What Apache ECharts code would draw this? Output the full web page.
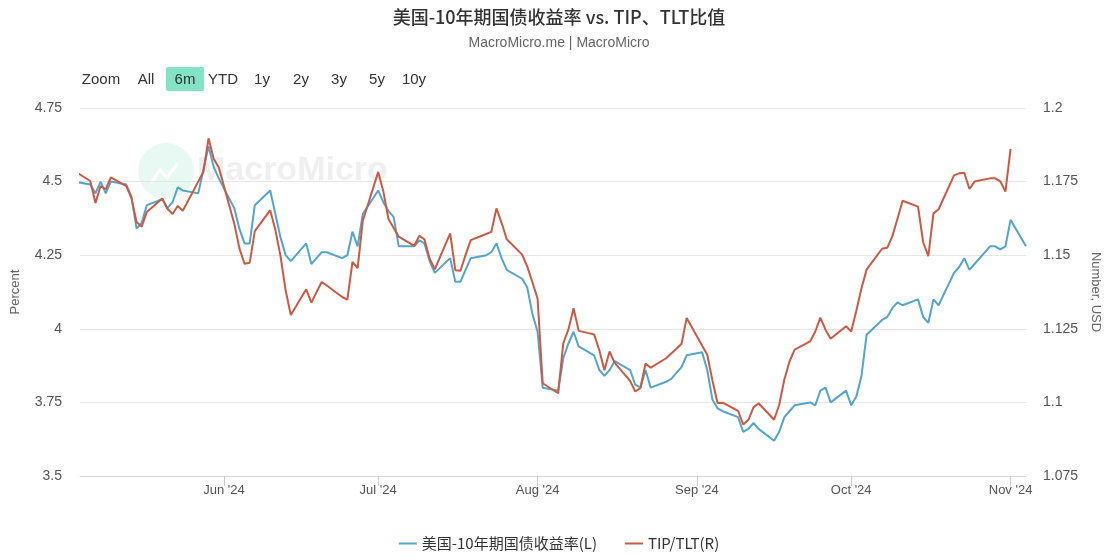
<!DOCTYPE html>
<html>
<head>
<meta charset="utf-8">
<script src="https://cdn.jsdelivr.net/npm/echarts@6/dist/echarts.min.js"></script>
<style>
html,body{margin:0;padding:0;background:#fff;}
#chart{width:1118px;height:559px;}
</style>
</head>
<body>
<div id="chart"></div>
<script>
// ---- data ----
const startDate = '2024-05-03';
const endDate = '2024-11-04';
const axisMin = '2024-05-04';
const axisMax = '2024-11-04';

// 10Y US Treasury yield (left axis), one value per weekday, null = no print
const yield10y = [
  // May
  4.50, 4.49, 4.46, 4.50, 4.46, 4.50, 4.49, 4.45, 4.34, 4.36, 4.42, 4.44, 4.41, 4.43, 4.48, 4.47, 4.46, 4.54, 4.62, 4.55, 4.51,
  // Jun
  4.41, 4.34, 4.29, 4.29, 4.42, 4.47, 4.39, 4.31, 4.25, 4.23, 4.29, 4.22, 4.24, 4.26, 4.26, 4.24, 4.25, 4.33, 4.28, 4.39,
  // Jul
  4.47, 4.43, 4.40, 4.38, 4.28, 4.28, 4.30, 4.29, 4.23, 4.19, 4.24, 4.16, 4.16, 4.20, 4.24, 4.25, 4.26, 4.29, 4.24, 4.20, 4.17, 4.14, 4.05,
  // Aug
  3.99, 3.80, 3.79, 3.90, 3.95, 3.99, 3.94, 3.91, 3.86, 3.84, 3.86, 3.89, 3.86, 3.81, 3.80, 3.86, 3.80, 3.82, 3.83, 3.85, 3.87, 3.91,
  // Sep
  3.92, 3.86, 3.76, 3.73, 3.72, 3.70, 3.65, 3.66, 3.68, 3.66, 3.62, 3.65, 3.70, 3.72, 3.74, 3.75, 3.74, 3.79, 3.80, 3.75, 3.79,
  // Oct
  3.74, 3.77, 3.84, 3.98, 4.03, 4.04, 4.07, 4.09, 4.08, 4.10, 4.04, 4.02, 4.10, 4.08, 4.19, 4.21, 4.24, 4.20, 4.22, 4.28, 4.28, 4.27, 4.28,
  // Nov
  4.37, 4.28
];

// TIP/TLT ratio (right axis)
const tipTlt = [
  // May
  1.1785, 1.1752, 1.1677, 1.1735, 1.1724, 1.1764, 1.1735, 1.1694, 1.1613, 1.1597, 1.1647, 1.1693, 1.1658, 1.1640, 1.1667, 1.1651, null, 1.1783, 1.1897, 1.1828, 1.1798,
  // Jun
  1.1608, 1.1524, 1.1471, 1.1474, 1.1582, 1.1653, 1.1586, 1.1497, 1.1380, 1.1297, 1.1384, 1.1339, null, 1.1409, 1.1397, 1.1358, 1.1349, 1.1477, 1.1456, 1.1616,
  // Jul
  1.1783, 1.1717, 1.1623, null, 1.1563, 1.1532, 1.1566, 1.1554, 1.1489, 1.1452, 1.1574, 1.1449, 1.1447, 1.1501, 1.1551, 1.1572, 1.1579, 1.1659, 1.1610, 1.1554, 1.1502, 1.1461, 1.1408,
  // Aug
  1.1352, 1.1065, 1.1031, 1.1201, 1.1248, 1.1320, 1.1243, 1.1231, 1.1178, 1.1109, 1.1173, 1.1134, 1.1073, 1.1037, 1.1049, 1.1132, 1.1118, 1.1150, 1.1166, 1.1182, 1.1199, 1.1287,
  // Sep
  null, 1.1162, 1.1075, 1.0998, 1.0999, 1.0971, 1.0925, 1.0941, 1.0983, 1.0997, 1.0941, 1.0992, 1.1078, 1.1139, 1.1179, 1.1207, 1.1240, 1.1288, 1.1247, 1.1216, 1.1259,
  // Oct
  1.1241, 1.1311, 1.1388, 1.1451, 1.1522, 1.1525, 1.1564, 1.1624, 1.1685, 1.1665, 1.1544, 1.1497, 1.1642, 1.1656, 1.1771, 1.1778, 1.1780, 1.1725, 1.1750, 1.1761, 1.1761, 1.1751, 1.1716,
  // Nov
  1.1861, null
];

const tickDates = ['2024-06-01', '2024-07-01', '2024-08-01', '2024-09-01', '2024-10-01', '2024-11-01'];
const tickLabels = ["Jun '24", "Jul '24", "Aug '24", "Sep '24", "Oct '24", "Nov '24"];

const leftTicks = { min: 3.5, max: 4.75, interval: 0.25 };
const rightTicks = { min: 1.075, max: 1.2, interval: 0.025 };

const seriesNames = ['美国-10年期国债收益率(L)', 'TIP/TLT(R)'];
const rangeButtons = ['Zoom', 'All', '6m', 'YTD', '1y', '2y', '3y', '5y', '10y'];

// ---- build ----
function parseDay(s) { const p = s.split('-').map(Number); return Date.UTC(p[0], p[1] - 1, p[2]); }
const DAY = 86400000;
const dates = [];
for (let t = parseDay(startDate); t <= parseDay(endDate); t += DAY) {
  const w = new Date(t).getUTCDay();
  if (w !== 0 && w !== 6) dates.push(t);
}
const blueData = dates.map((t, i) => [t, yield10y[i] === undefined ? null : yield10y[i]]);
const redData = dates.map((t, i) => [t, tipTlt[i] === undefined ? null : tipTlt[i]]);
const tickTs = tickDates.map(parseDay);

const FONT = '"Helvetica Neue", "Liberation Sans", "Noto Sans CJK SC", sans-serif';
const CJK = '"Noto Sans CJK SC", "Liberation Sans", sans-serif';
const BLUE = '#52a6cc';
const RED = '#cc5a42';

const btnX = [101, 146, 185, 223, 262, 301, 339, 377, 414];
const graphics = [
  { type: 'rect', shape: { x: 166, y: 67, width: 38, height: 24, r: 2 }, style: { fill: '#84e2c5' }, z: 1 }
];
rangeButtons.forEach((t, i) => {
  graphics.push({ type: 'text', x: btnX[i], y: 80, z: 2,
    style: { text: t, fill: '#333', font: '15px ' + FONT, textAlign: 'center', textVerticalAlign: 'middle' } });
});
// watermark
graphics.push({ type: 'circle', shape: { cx: 166, cy: 171, r: 28 }, style: { fill: 'rgba(120,214,184,0.17)' }, z: 0 });
graphics.push({ type: 'polyline', shape: { points: [[151,183],[160,170],[167,178],[178,163]] }, style: { stroke: 'rgba(255,255,255,0.9)', lineWidth: 3, fill: null }, z: 0 });
graphics.push({ type: 'text', x: 197, y: 171, z: 0,
  style: { text: 'MacroMicro', fill: 'rgba(180,180,180,0.22)', font: 'bold 34px ' + FONT, textVerticalAlign: 'middle' } });

const chart = echarts.init(document.getElementById('chart'), null, { renderer: 'canvas' });
chart.setOption({
  animation: false,
  backgroundColor: '#fff',
  title: {
    text: '美国-10年期国债收益率 vs. TIP、TLT比值',
    subtext: 'MacroMicro.me | MacroMicro',
    left: 'center', top: 3, itemGap: 10,
    textStyle: { fontFamily: CJK, fontSize: 18, fontWeight: 500, color: '#333' },
    subtextStyle: { fontFamily: FONT, fontSize: 14, color: '#666' }
  },
  legend: {
    bottom: 3, left: 'center', itemGap: 28, itemWidth: 18, itemHeight: 2, icon: 'rect',
    textStyle: { fontFamily: CJK, fontSize: 15, color: '#333' },
    data: seriesNames
  },
  grid: { left: 80, right: 92, top: 108, bottom: 83, containLabel: false },
  xAxis: {
    type: 'value', min: parseDay(axisMin), max: parseDay(axisMax),
    axisLine: { lineStyle: { color: '#d8d8d8' } },
    axisTick: { show: true, length: 10, lineStyle: { color: '#cccccc' }, customValues: tickTs },
    axisLabel: {
      customValues: tickTs, color: '#555', fontSize: 13, fontFamily: FONT, margin: 8,
      formatter: function (v) { const i = tickTs.indexOf(v); return i >= 0 ? tickLabels[i] : ''; }
    },
    splitLine: { show: false }
  },
  yAxis: [
    {
      type: 'value', min: leftTicks.min, max: leftTicks.max, interval: leftTicks.interval,
      name: 'Percent', nameLocation: 'middle', nameGap: 58, nameRotate: 90,
      nameTextStyle: { color: '#666', fontSize: 13, fontFamily: FONT },
      axisLine: { show: false }, axisTick: { show: false },
      axisLabel: { color: '#555', fontSize: 14, fontFamily: FONT, margin: 18 },
      splitLine: { lineStyle: { color: '#e6e6e6' } }
    },
    {
      type: 'value', min: rightTicks.min, max: rightTicks.max, interval: rightTicks.interval,
      name: 'Number, USD', nameLocation: 'middle', nameGap: 60, nameRotate: -90,
      nameTextStyle: { color: '#666', fontSize: 13, fontFamily: FONT },
      axisLine: { show: false }, axisTick: { show: false },
      axisLabel: { color: '#555', fontSize: 14, fontFamily: FONT, margin: 17,
        formatter: v => String(+v.toFixed(3)) },
      splitLine: { show: false }
    }
  ],
  graphic: graphics,
  series: [
    { name: seriesNames[0], type: 'line', yAxisIndex: 0, data: blueData, showSymbol: false, connectNulls: true,
      lineStyle: { color: BLUE, width: 2 }, itemStyle: { color: BLUE }, z: 3 },
    { name: seriesNames[1], type: 'line', yAxisIndex: 1, data: redData, showSymbol: false, connectNulls: true,
      lineStyle: { color: RED, width: 2 }, itemStyle: { color: RED }, z: 4 }
  ]
});
</script>
</body>
</html>
